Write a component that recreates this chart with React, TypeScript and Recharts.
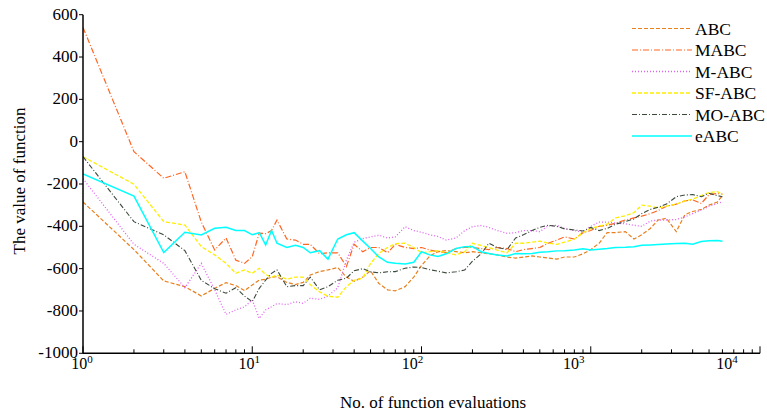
import React from 'react';
import { LineChart, Line, XAxis, YAxis, Legend, Label } from 'recharts';

// number of function evaluations (x, log scale)
const EVALS = [
  1, 2, 3, 4, 5, 6, 7, 8, 9, 10,
  11, 12, 13, 14, 16, 18, 20, 22, 25, 28,
  32, 36, 40, 45, 50, 56, 63, 70, 80, 90,
  100, 112, 125, 140, 160, 180, 200, 225, 250, 280,
  320, 360, 400, 450, 500, 560, 630, 700, 800, 900,
  1000, 1120, 1250, 1400, 1600, 1800, 2000, 2250, 2500, 2800,
  3200, 3600, 4000, 4500, 5000, 5600, 6000,
];

const ABC = [
  -285, -510, -658, -685, -729, -693, -666, -680, -704, -677,
  -654, -650, -640, -638, -665, -675, -665, -630, -614, -606,
  -595, -640, -660, -640, -610, -670, -700, -705, -685, -640,
  -585, -540, -520, -515, -520, -525, -520, -525, -530, -535,
  -545, -550, -545, -540, -545, -550, -555, -545, -545, -530,
  -510, -480, -430, -430, -425, -460, -440, -410, -370, -362,
  -425, -345, -330, -320, -300, -285, -255,
];

const MABC = [
  540, -47, -173, -142, -380, -512, -455, -560, -575, -543,
  -432, -435, -420, -370, -460, -465, -485, -485, -530, -525,
  -525, -590, -485, -520, -500, -500, -525, -485, -500, -505,
  -500, -512, -520, -525, -505, -500, -500, -505, -510, -500,
  -505, -520, -510, -505, -500, -480, -465, -450, -460, -430,
  -420, -400, -395, -385, -370, -360, -352, -340, -325, -305,
  -295, -280, -275, -292, -250, -245, -248,
];

const M_ABC = [
  -175, -485, -575, -690, -575, -700, -816, -795, -780, -748,
  -835, -795, -780, -765, -770, -756, -764, -740, -745, -730,
  -690, -560, -475, -458, -450, -442, -455, -450, -402, -420,
  -428, -440, -448, -465, -455, -420, -402, -396, -405, -420,
  -433, -430, -420, -420, -425, -398, -395, -410, -420, -428,
  -400, -380, -380, -385, -388, -395, -400, -375, -370, -370,
  -368, -355, -340, -323, -305, -292, -285,
];

const SF_ABC = [
  -71, -201, -378, -394, -496, -535, -575, -622, -606, -622,
  -598, -628, -640, -630, -650, -640, -640, -675, -710, -730,
  -735, -685, -655, -645, -575, -528, -500, -482, -480, -500,
  -525, -520, -515, -525, -535, -520, -480, -490, -500, -512,
  -525, -480, -480, -475, -470, -480, -485, -475, -460, -430,
  -410, -400, -390, -360, -350, -335, -300, -305, -312, -305,
  -295, -280, -272, -255, -240, -236, -250,
];

const MO_ABC = [
  -71, -378, -440, -515, -655, -695, -716, -690, -730, -756,
  -693, -654, -622, -606, -685, -680, -680, -640, -700, -685,
  -655, -645, -610, -600, -615, -620, -615, -614, -598, -592,
  -595, -605, -612, -620, -615, -606, -565, -530, -480, -500,
  -510, -455, -440, -420, -405, -395, -400, -412, -417, -422,
  -405, -420, -410, -390, -378, -365, -340, -320, -310, -295,
  -260, -252, -250, -260, -244, -255, -260,
];

const E_ABC = [
  -153, -257, -524, -428, -441, -409, -404, -420, -420, -440,
  -430, -488, -420, -480, -500, -490, -500, -525, -515, -555,
  -460, -440, -430, -470, -505, -545, -570, -575, -578, -570,
  -520, -535, -543, -530, -505, -496, -495, -520, -528, -535,
  -540, -528, -530, -528, -522, -520, -516, -515, -512, -506,
  -512, -508, -505, -500, -499, -496, -490, -488, -486, -483,
  -481, -480, -485, -472, -468, -467, -470,
];

const Y_TICKS = [-1000, -800, -600, -400, -200, 0, 200, 400, 600];
const X_TICKS = [
  1, 2, 3, 4, 5, 6, 7, 8, 9,
  10, 20, 30, 40, 50, 60, 70, 80, 90,
  100, 200, 300, 400, 500, 600, 700, 800, 900,
  1000, 2000, 3000, 4000, 5000, 6000, 7000, 8000, 9000,
  10000,
];

const SERIES = [
  { key: 'abc', name: 'ABC', values: ABC, color: '#E8801E', dash: '4 2', width: 1.2 },
  { key: 'mabc', name: 'MABC', values: MABC, color: '#FF6622', dash: '6 2 1 2', width: 1.2 },
  { key: 'mAbc', name: 'M-ABC', values: M_ABC, color: '#E060F0', dash: '1 2', width: 1.3 },
  { key: 'sfAbc', name: 'SF-ABC', values: SF_ABC, color: '#FFEE00', dash: '4 2', width: 1.3 },
  { key: 'moAbc', name: 'MO-ABC', values: MO_ABC, color: '#3C4A3C', dash: '5 2 1 2', width: 1.1 },
  { key: 'eAbc', name: 'eABC', values: E_ABC, color: '#00FFFF', dash: undefined, width: 1.5 },
];

const rows = EVALS.map((x, i) => {
  const row: any = { x };
  SERIES.forEach(s => { row[s.key] = s.values[i]; });
  return row;
});

const FONT = '"Liberation Serif", "Times New Roman", Times, serif';

// the decade labels in the original sit a little left of their ticks
const LABEL_SHIFT = [-1, -3, -9, -17, -33];

const XTick = (props: any) => {
  const { x, y, payload } = props;
  const p = Math.log10(payload.value);
  const e = Math.round(p);
  const major = Math.abs(p - e) < 1e-6;
  return (
    <g>
      <line x1={x} x2={x} y1={y} y2={y - (major ? 7 : 4)} stroke="#000" strokeWidth={1} />
      {major && (
        <text x={x + LABEL_SHIFT[e]} y={y + 16} textAnchor="middle" fontFamily={FONT} fontSize={16} fill="#000">
          10<tspan dy={-6} fontSize={11}>{e}</tspan>
        </text>
      )}
    </g>
  );
};

const YTick = (props: any) => {
  const { x, y, payload } = props;
  return (
    <text x={x} y={y + 5} textAnchor="end" fontFamily={FONT} fontSize={17} fill="#000">
      {payload.value}
    </text>
  );
};

const renderLegend = () => (
  <svg width={139} height={135}>
    {SERIES.map((s, i) => {
      const y = 14.5 + i * 21.5;
      return (
        <g key={s.key}>
          <line x1={4} x2={64} y1={y} y2={y} stroke={s.color} strokeWidth={s.width} strokeDasharray={s.dash} />
          <text x={67} y={y + 6} fontFamily={FONT} fontSize={17.5} fill="#000">{s.name}</text>
        </g>
      );
    })}
  </svg>
);

export default function App() {
  return (
    <div style={{ position: 'absolute', left: 0, top: 0, background: '#fff' }}>
      <LineChart width={767} height={413} data={rows} margin={{ top: 14.7, right: 7, left: 0, bottom: 29.7 }}>
        <XAxis
          dataKey="x"
          type="number"
          scale="log"
          domain={[1, 10000]}
          allowDataOverflow
          ticks={X_TICKS}
          interval={0}
          tickSize={0}
          tickMargin={0}
          tickLine={false}
          tick={<XTick />}
          axisLine={{ stroke: '#000', strokeWidth: 1.5 }}
          height={30}
        >
          <Label
            content={() => (
              <text x={433} y={408} textAnchor="middle" fontFamily={FONT} fontSize={17} fill="#000">
                No. of function evaluations
              </text>
            )}
          />
        </XAxis>
        <YAxis
          type="number"
          domain={[-1000, 600]}
          ticks={Y_TICKS}
          interval={0}
          width={83}
          tickSize={4}
          tickMargin={1}
          tick={<YTick />}
          tickLine={{ stroke: '#000' }}
          axisLine={{ stroke: '#000', strokeWidth: 1.5 }}
        >
          <Label
            content={() => (
              <text transform="translate(25,181) rotate(-90)" textAnchor="middle" fontFamily={FONT} fontSize={17} fill="#000">
                The value of function
              </text>
            )}
          />
        </YAxis>
        <Legend
          layout="vertical"
          align="center"
          verticalAlign="middle"
          content={renderLegend}
          wrapperStyle={{ left: 628, top: 14, width: 139, height: 135 }}
        />
        {SERIES.map(s => (
          <Line
            key={s.key}
            dataKey={s.key}
            name={s.name}
            type="linear"
            stroke={s.color}
            strokeWidth={s.width}
            strokeDasharray={s.dash}
            dot={false}
            activeDot={false}
            isAnimationActive={false}
          />
        ))}
      </LineChart>
    </div>
  );
}
